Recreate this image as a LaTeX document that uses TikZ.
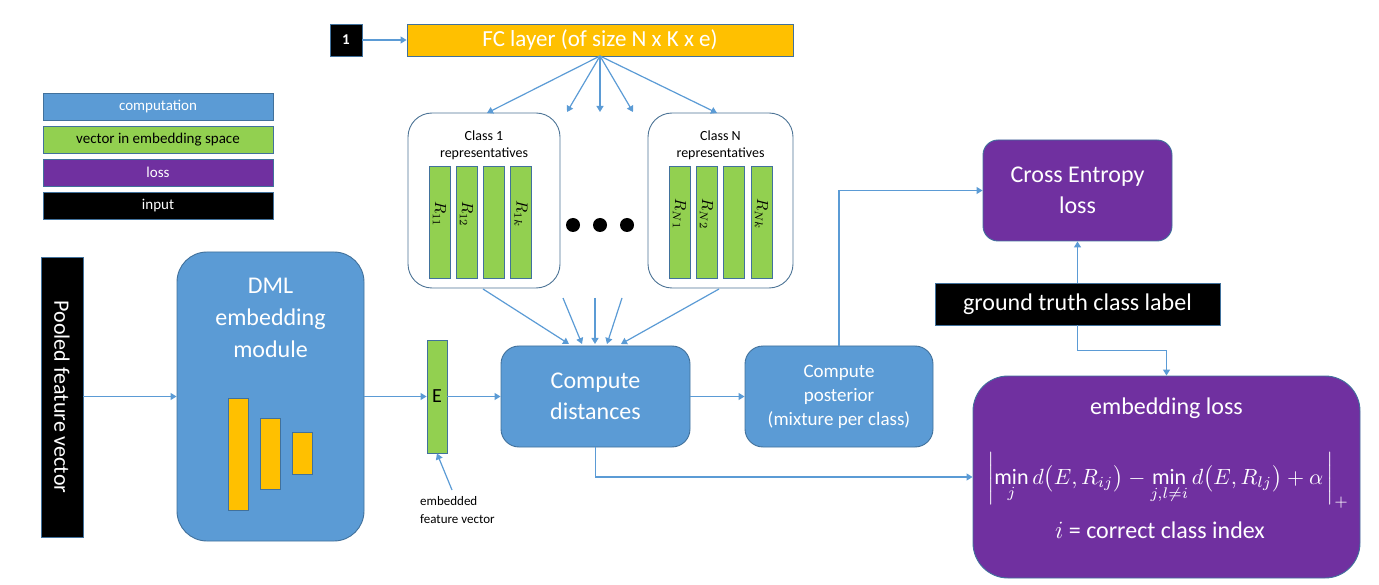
\documentclass[tikz,border=0pt]{standalone}
\usepackage{graphicx}
\usepackage{fontspec}
\setmainfont{Carlito}
\usetikzlibrary{arrows.meta}
\definecolor{cblue}{HTML}{5B9BD5}
\definecolor{cgreen}{HTML}{92D050}
\definecolor{cpurple}{HTML}{7030A0}
\definecolor{corange}{HTML}{FFC000}
\definecolor{cedge}{HTML}{41719C}
\begin{document}
\begin{tikzpicture}[x=1pt,y=-1pt,
  box/.style={draw=cedge,line width=0.9pt,inner sep=0pt,align=center},
  bluebox/.style={box,fill=cblue,text=white},
  purplebox/.style={box,fill=cpurple,text=white},
  greenbar/.style={box,fill=cgreen,minimum width=21pt,minimum height=112pt},
  orangebar/.style={box,fill=corange,minimum width=20pt},
  blackbox/.style={box,fill=black,text=white},
  groupbox/.style={draw=cedge!80!gray,line width=0.9pt,rounded corners=24pt,fill=white,inner sep=0pt},
  conn/.style={draw=cblue,line width=1.2pt,-{Triangle[width=7pt,length=6pt]}},
  legend/.style={box,minimum width=230pt,minimum height=27pt,font=\fontsize{15}{18}\selectfont},
  rlab/.style={rotate=-90,inner sep=0pt}
]
\useasboundingbox (0,0) rectangle (1379,585);

% legend
\node[legend,fill=cblue,text=white] (lg1) at (158,106.5) {computation};
\node[legend,fill=cgreen,text=black] (lg2) at (158,139.5) {vector in embedding space};
\node[legend,fill=cpurple,text=white] (lg3) at (158,172.5) {loss};
\node[legend,fill=black,text=white] (lg4) at (158,205.5) {input};

% top
\node[blackbox,minimum width=32pt,minimum height=32pt,font=\fontsize{15}{17}\selectfont\bfseries] (one) at (346,40) {1};
\node[box,fill=corange,text=white,minimum width=386pt,minimum height=32pt,font=\fontsize{23}{26}\selectfont] (fc) at (600,40) {FC layer (of size N x K x e)};
\draw[conn] (one) -- (fc);

% class boxes
\node[groupbox,minimum width=152pt,minimum height=175pt] (c1) at (484,200.5) {};
\node[groupbox,minimum width=145pt,minimum height=175pt] (cN) at (720.5,200.5) {};
\node[align=center,font=\fontsize{14}{17}\selectfont] (c1t) at (484,145) {Class 1\\representatives};
\node[align=center,font=\fontsize{14}{17}\selectfont] (cNt) at (720.5,145) {Class N\\representatives};

\node[greenbar] (b11) at (439.5,222) {};
\node[greenbar] (b12) at (466.5,222) {};
\node[greenbar] (b13) at (493.5,222) {};
\node[greenbar] (b14) at (521,222) {};
\node[rlab] (l11) at (439.5,214) {\scalebox{1.6}{$R_{11}$}};
\node[rlab] (l12) at (466.5,214) {\scalebox{1.6}{$R_{12}$}};
\node[rlab] (l14) at (521,214) {\scalebox{1.6}{$R_{1k}$}};

\node[greenbar] (bN1) at (679.5,222) {};
\node[greenbar] (bN2) at (706.5,222) {};
\node[greenbar] (bN3) at (733.5,222) {};
\node[greenbar] (bN4) at (761.5,222) {};
\node[rlab] (lN1) at (679.5,214) {\scalebox{1.6}{$R_{N1}$}};
\node[rlab] (lN2) at (706.5,214) {\scalebox{1.6}{$R_{N2}$}};
\node[rlab] (lN4) at (761.5,214) {\scalebox{1.6}{$R_{Nk}$}};

\fill (573,225) circle (7pt) (600,225) circle (7pt) (627,225) circle (7pt);

% fc fan-out
\coordinate (fcb) at (600,56);
\coordinate (f2) at (567,112);
\coordinate (f3) at (600,112);
\coordinate (f4) at (633,112);
\draw[conn] (fcb) -- (487,113);
\draw[conn] (fcb) -- (f2);
\draw[conn] (fcb) -- (f3);
\draw[conn] (fcb) -- (f4);
\draw[conn] (fcb) -- (717,113);

% main row
\node[blackbox,minimum width=42pt,minimum height=280pt] (pfv) at (62,397) {};
\node[rotate=-90,text=white,font=\fontsize{22}{26}\selectfont] (pfvt) at (62,397) {Pooled feature vector};
\node[bluebox,rounded corners=30pt,minimum width=187pt,minimum height=289pt] (dml) at (270.5,396.5) {};
\node[align=center,text=white,font=\fontsize{24}{32}\selectfont] (dmlt) at (270.5,318) {DML\\embedding\\module};
\node[orangebar,minimum height=112pt] (o1) at (238.5,454) {};
\node[orangebar,minimum height=71pt] (o2) at (270,453.5) {};
\node[orangebar,minimum height=42pt] (o3) at (302,453) {};

\node[box,fill=cgreen,minimum width=20pt,minimum height=113pt,font=\fontsize{20}{22}\selectfont] (E) at (437,396.5) {E};
\node[bluebox,rounded corners=18pt,minimum width=189pt,minimum height=101pt,font=\fontsize{24}{31}\selectfont] (cd) at (595.5,396.5) {Compute\\distances};
\node[bluebox,rounded corners=18pt,minimum width=188pt,minimum height=101pt,font=\fontsize{19}{24}\selectfont] (cp) at (839,396.5) {Compute\\posterior\\(mixture per class)};

\node[align=left,font=\fontsize{13}{18}\selectfont,anchor=north west,inner sep=0pt] (eft) at (420,496) {embedded\\feature vector};
\coordinate (efa) at (452,490);

\draw[conn] (pfv.east |- dml.west) -- (dml.west);
\draw[conn] (dml.east) -- (E.west);
\draw[conn] (E.east) -- (cd.west);
\draw[conn] (cd.east) -- (cp.west);
\draw[conn] (efa) -- (E.south);

% into compute distances
\coordinate (s1) at (563,298);
\coordinate (s2) at (595,298);
\coordinate (s3) at (622,298);
\draw[conn] (483,289) -- (569,344);
\draw[conn] (s1) -- (582,344);
\draw[conn] (s2) -- (595,344);
\draw[conn] (s3) -- (607,344);
\draw[conn] (719,289) -- (621,344);

% right side
\node[purplebox,rounded corners=15pt,minimum width=189pt,minimum height=101pt,font=\fontsize{24}{31}\selectfont] (ce) at (1077.5,190.5) {Cross Entropy\\loss};
\node[blackbox,minimum width=285pt,minimum height=42pt,font=\fontsize{24}{28}\selectfont] (gt) at (1077.5,304) {ground truth class label};
\node[purplebox,rounded corners=35pt,minimum width=387pt,minimum height=202pt] (el) at (1166.5,477) {};
\node[text=white,font=\fontsize{24}{28}\selectfont] (elt) at (1166.5,408) {embedding loss};
\node[text=white,inner sep=0pt] (elf) at (1168,480) {\scalebox{2.2}{$\left|\min\limits_j d\bigl(E,R_{ij}\bigr) - \min\limits_{j,l\neq i} d\bigl(E,R_{lj}\bigr) + \alpha\,\right|_+$}};
\node[text=white,font=\fontsize{24}{28}\selectfont] (eli) at (1160,530) {$i$ = correct class index};

\draw[conn] (gt.north) -- (ce.south);
\draw[conn] (gt.south) -- ++(0,25) -| (el.north);
\draw[conn] (cp.north) |- (ce.west);
\draw[conn] (cd.south) |- (el.west |- 0,477);
\end{tikzpicture}
\end{document}
